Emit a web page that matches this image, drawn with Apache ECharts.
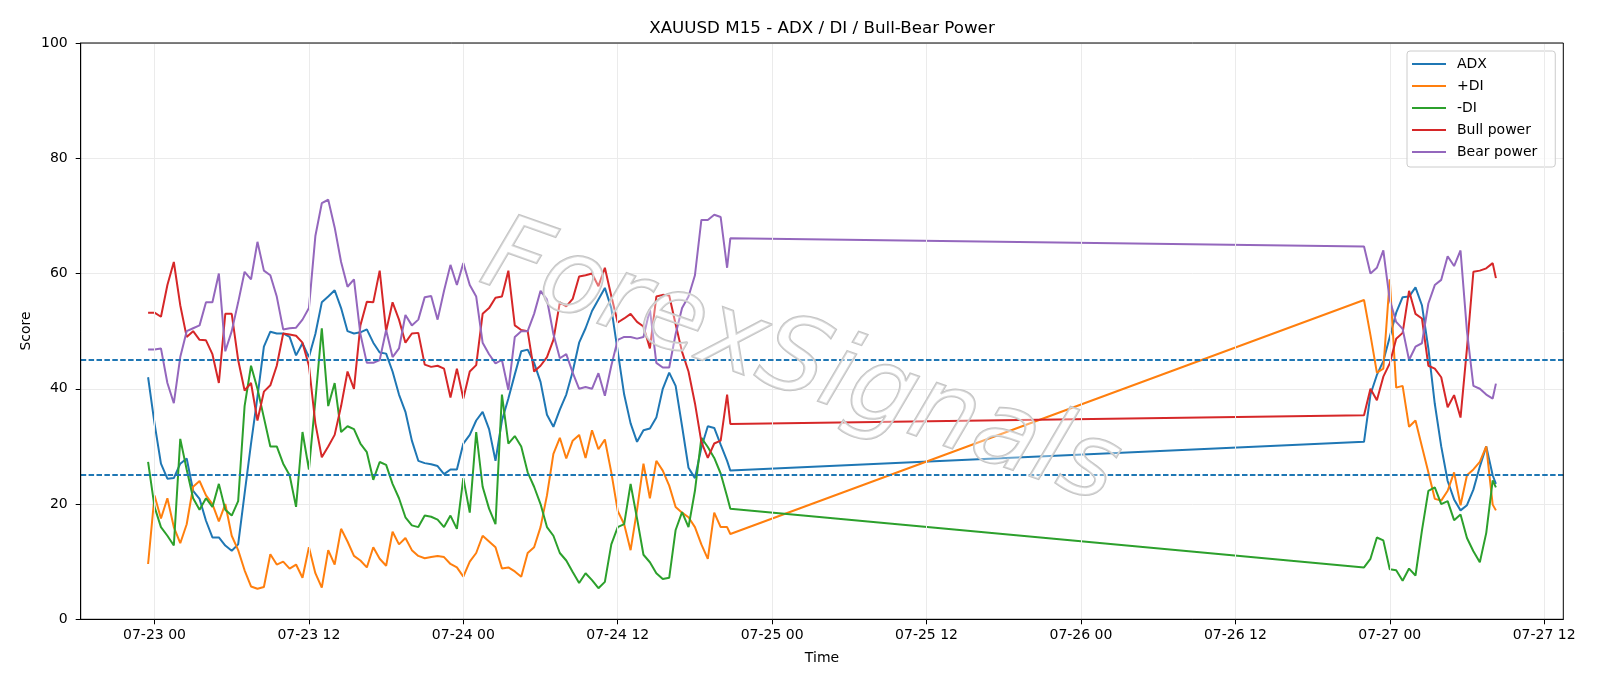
<!DOCTYPE html>
<html>
<head>
<meta charset="utf-8">
<script src="https://cdn.jsdelivr.net/npm/echarts@6/dist/echarts.min.js"></script>
<style>
  html, body { margin: 0; padding: 0; background: #fff; }
  #main { width: 1600px; height: 686px; }
</style>
</head>
<body>
<div id="main"></div>
<script>
// x values are hours counted from 07-23 00:00
// first block: 07-22 23:30 -> 07-24 20:45, second block: 07-26 22:00 -> 07-27 08:15
const times = [];
for (let i = 0; i <= 90; i++) times.push(-0.5 + i * 0.5);
times.push(44.75);
for (let i = 0; i <= 20; i++) times.push(94 + i * 0.5);
times.push(104.25);

const tickHours = [0, 12, 24, 36, 48, 60, 72, 84, 96, 108];
const tickLabels = ['07-23 00', '07-23 12', '07-24 00', '07-24 12', '07-25 00',
  '07-25 12', '07-26 00', '07-26 12', '07-27 00', '07-27 12'];

const adx = [
  42.0, 34, 27, 24.4, 24.5, 27, 27.9, 22.3, 20.9, 17.1, 14.2, 14.2,
  12.8, 11.9, 13, 21.8, 30.5, 38.6, 47.3, 49.9, 49.6, 49.6, 49, 45.8,
  47.9, 45.5, 49.5, 55, 56, 57.1, 54, 50, 49.6, 49.8, 50.3, 48,
  46.3, 46.1, 43, 39, 36, 31, 27.5, 27.1, 26.9, 26.6, 25.2, 26,
  26, 30.5, 32, 34.5, 36, 33, 27.5, 34.5, 38.3, 42.5, 46.5, 46.8,
  44.5, 41.2, 35.5, 33.4, 36.4, 39, 43, 48, 50.5, 53.5, 55.5, 57.5,
  54, 46.5, 39, 34, 30.8, 32.8, 33.1, 35, 40, 42.8, 40.5, 33.5,
  26.3, 24.5, 29.8, 33.5, 33.2, 30.3, 27.5, 25.8,
  30.8, 39, 42.4, 44.8, 49, 53.2, 55.9, 56, 57.6, 54.5, 47,
  37.4, 30, 24, 20.8, 18.9, 19.8, 22.5, 26.5, 30, 25, 23.5
];
const plusDI = [
  9.6, 21.5, 17.5, 21, 16, 13.2, 16.5, 23, 24, 21.5, 20, 17,
  20, 14.5, 12, 8.5, 5.7, 5.3, 5.6, 11.3, 9.5, 10, 8.8, 9.5,
  7.2, 12.5, 8, 5.5, 12, 9.5, 15.7, 13.5, 11, 10.2, 9, 12.5,
  10.5, 9.3, 15.2, 13, 14.1, 12, 11, 10.6, 10.8, 11, 10.8, 9.6,
  9, 7.4, 10, 11.5, 14.5, 13.5, 12.5, 8.8, 9, 8.3, 7.4, 11.5,
  12.5, 16, 21.5, 28.7, 31.5, 27.9, 31, 32, 28, 32.8, 29.5, 31.2,
  25.5, 18.8, 16.5, 12, 19, 27, 21, 27.5, 25.8, 23.2, 19.5, 18.5,
  17.7, 16, 13, 10.5, 18.5, 16, 16, 14.8,
  55.4, 49.3, 42.8, 43.5, 59, 40.2, 40.5, 33.4, 34.5, 30, 25.5,
  20.9, 20.6, 22.3, 25.5, 19.8, 25, 26, 27.3, 30, 19.9, 18.9
];
const minusDI = [
  27.3, 19.5, 16, 14.5, 12.8, 31.3, 26, 21, 19, 21, 19.5, 23.5,
  19, 18, 20.5, 37, 44, 40, 35, 30, 30, 27, 25, 19.5,
  32.5, 26, 38, 50.5, 37, 41, 32.5, 33.5, 33, 30.5, 29, 24.2,
  27.3, 26.8, 23.5, 21, 17.7, 16.3, 16, 18, 17.8, 17.3, 16, 18,
  15.7, 24.5, 18.5, 32.5, 23, 19.2, 16.5, 39, 30.5, 31.8, 30, 25.5,
  23, 20, 16, 14.5, 11.5, 10.2, 8.2, 6.3, 8, 6.8, 5.4, 6.5,
  13, 16, 16.5, 23.5, 17.5, 11.2, 9.9, 8, 7, 7.2, 15.5, 18.6,
  16, 22.3, 31.5, 29.9, 28, 25.3, 21.3, 19.2,
  9, 10.5, 14.2, 13.7, 8.7, 8.5, 6.7, 8.8, 7.6, 15.4, 22.3,
  22.9, 20, 20.5, 17.2, 18.2, 14.1, 11.8, 9.9, 15, 24.1, 22.9
];
const bullPower = [
  53.2, 53.2, 52.5, 58, 62, 54.5, 49, 50, 48.5, 48.4, 46, 41,
  53, 53, 45, 39.7, 41, 34.5, 39.5, 40.6, 44, 49.6, 49.4, 49.2,
  48, 44, 34, 28.1, 30, 32, 37, 43, 40, 51, 55.1, 55,
  60.5, 50, 55, 52, 48, 49.6, 49.7, 44.2, 43.8, 44, 43.5, 38.5,
  43.5, 38.3, 43, 44.1, 53, 54, 55.8, 56, 60.5, 51, 50.2, 50,
  43, 44, 45.5, 48.5, 55, 54.3, 55.6, 59.5, 59.7, 60, 57.8, 61,
  56.1, 51.5, 52.2, 53, 51.6, 50.8, 47, 56, 56.3, 56.2, 51.2, 46.4,
  43, 37.5, 30.8, 28, 30.5, 31, 39, 33.9,
  35.4, 40, 38, 42.1, 44.4, 48.7, 49.7, 57, 53, 52.2, 44,
  43.5, 42, 36.8, 38.9, 35, 47, 60.3, 60.5, 60.9, 61.8, 59.2
];
const bearPower = [
  46.8, 46.8, 47, 41, 37.5, 45.5, 50, 50.5, 51, 55, 55, 60,
  46.5, 50, 55, 60.3, 59, 65.5, 60.5, 59.7, 56, 50.3, 50.5, 50.6,
  52, 54, 66.5, 72.2, 72.8, 68, 62, 57.7, 59, 49.5, 44.5, 44.5,
  45, 50.2, 45.5, 47, 52.8, 51, 52, 55.9, 56.1, 52, 57, 61.5,
  58, 61.8, 58, 56, 48, 46, 44.4, 45, 39.8, 49, 50, 50,
  53, 57, 55.5, 49.5, 45.3, 46, 42.8, 40, 40.3, 40, 42.7, 38.8,
  44, 48.5, 49, 49, 48.7, 49, 53.8, 44.5, 43.7, 43.7, 49.5, 54,
  56, 59.7, 69.3, 69.3, 70.2, 69.8, 61, 66.1,
  64.7, 60, 61, 64, 55.4, 51.6, 50.4, 45, 47.3, 47.9, 54.8,
  58, 58.9, 63, 61.3, 64, 50, 40.5, 40, 39, 38.3, 40.9
];

const seriesNames = ['ADX', '+DI', '-DI', 'Bull power', 'Bear power'];
const seriesValues = [adx, plusDI, minusDI, bullPower, bearPower];
const seriesColors = ['#1f77b4', '#ff7f0e', '#2ca02c', '#d62728', '#9467bd'];
const levels = [45, 25];

const FONT = 'DejaVu Sans';
const gridBox = { left: 80.7, top: 43, right: 1563.3, bottom: 619.3 };

let myChart = echarts.init(document.getElementById('main'));

const lineSeries = seriesNames.map(function (name, k) {
  return {
    name: name,
    type: 'line',
    z: 3,
    showSymbol: false,
    symbol: 'none',
    color: seriesColors[k],
    lineStyle: { width: 2, color: seriesColors[k] },
    emphasis: { disabled: true },
    data: times.map(function (t, i) { return [t, seriesValues[k][i]]; })
  };
});

myChart.setOption({
  animation: false,
  backgroundColor: '#fff',
  textStyle: { fontFamily: FONT },
  grid: {
    left: gridBox.left,
    right: 1600 - gridBox.right,
    top: gridBox.top,
    bottom: 686 - gridBox.bottom
  },
  legend: {
    data: seriesNames,
    orient: 'vertical',
    left: 1407,
    top: 51,
    icon: 'rect',
    itemWidth: 34,
    itemHeight: 2,
    itemGap: 6,
    padding: [5, 18, 7, 5],
    backgroundColor: 'rgba(255,255,255,0.8)',
    borderColor: '#cccccc',
    borderWidth: 1,
    borderRadius: 3,
    textStyle: { fontFamily: FONT, fontSize: 14, color: '#000', lineHeight: 16, padding: [0, 0, 0, 6] }
  },
  xAxis: {
    type: 'value',
    min: -5.7375,
    max: 109.4875,
    axisLine: { onZero: false, lineStyle: { color: '#000', width: 1 } },
    axisTick: { show: true, customValues: tickHours, length: 5, lineStyle: { color: '#000' } },
    axisLabel: {
      customValues: tickHours,
      margin: 9,
      fontSize: 14,
      color: '#000',
      fontFamily: FONT,
      formatter: function (v) {
        let i = tickHours.indexOf(v);
        return i >= 0 ? tickLabels[i] : '';
      }
    },
    splitLine: { show: false }
  },
  yAxis: {
    type: 'value',
    min: 0,
    max: 100,
    interval: 20,
    axisLine: { show: true, onZero: false, lineStyle: { color: '#000', width: 1 } },
    axisTick: { show: true, length: 5, lineStyle: { color: '#000' } },
    axisLabel: { margin: 13, fontSize: 14, color: '#000', fontFamily: FONT },
    splitLine: { show: true, lineStyle: { color: '#ebebeb', width: 1 } }
  },
  series: [
    {
      // vertical grid lines at the date ticks
      name: 'vgrid',
      type: 'line',
      z: 1,
      data: [],
      silent: true,
      markLine: {
        silent: true,
        symbol: ['none', 'none'],
        label: { show: false },
        lineStyle: { color: '#ebebeb', width: 1, type: 'solid' },
        emphasis: { disabled: true },
        data: tickHours.map(function (h) { return { xAxis: h }; })
      }
    }
  ].concat(lineSeries).concat([
    {
      name: 'levels',
      type: 'line',
      z: 4,
      data: [],
      silent: true,
      markLine: {
        silent: true,
        symbol: ['none', 'none'],
        label: { show: false },
        lineStyle: { color: '#1f77b4', width: 1.8, type: [5.5, 2.4] },
        emphasis: { disabled: true },
        data: levels.map(function (v) { return { yAxis: v }; })
      }
    }
  ]),
  graphic: [
    {
      type: 'rect',
      z: 10,
      silent: true,
      shape: {
        x: gridBox.left, y: gridBox.top,
        width: gridBox.right - gridBox.left, height: gridBox.bottom - gridBox.top
      },
      style: { fill: 'none', stroke: '#000', lineWidth: 1 }
    },
    {
      type: 'text',
      x: 822, y: 29,
      style: { text: 'XAUUSD M15 - ADX / DI / Bull-Bear Power', fontSize: 16.7, fontFamily: FONT, fill: '#000', align: 'center', verticalAlign: 'middle' }
    },
    {
      type: 'text',
      x: 822, y: 658,
      style: { text: 'Time', fontSize: 14, fontFamily: FONT, fill: '#000', align: 'center', verticalAlign: 'middle' }
    },
    {
      type: 'text',
      x: 26.5, y: 331,
      rotation: Math.PI / 2,
      style: { text: 'Score', fontSize: 14, fontFamily: FONT, fill: '#000', align: 'center', verticalAlign: 'middle' }
    },
    {
      // watermark
      type: 'text',
      x: 800, y: 366,
      z: 50,
      silent: true,
      rotation: -0.34,
      style: {
        text: 'ForexSignals',
        fontSize: 104,
        fontStyle: 'italic',
        fontFamily: FONT,
        fill: 'rgba(255,255,255,0.35)',
        stroke: '#c4c4c4',
        lineWidth: 2,
        align: 'center',
        verticalAlign: 'middle'
      }
    }
  ]
});
</script>
</body>
</html>
